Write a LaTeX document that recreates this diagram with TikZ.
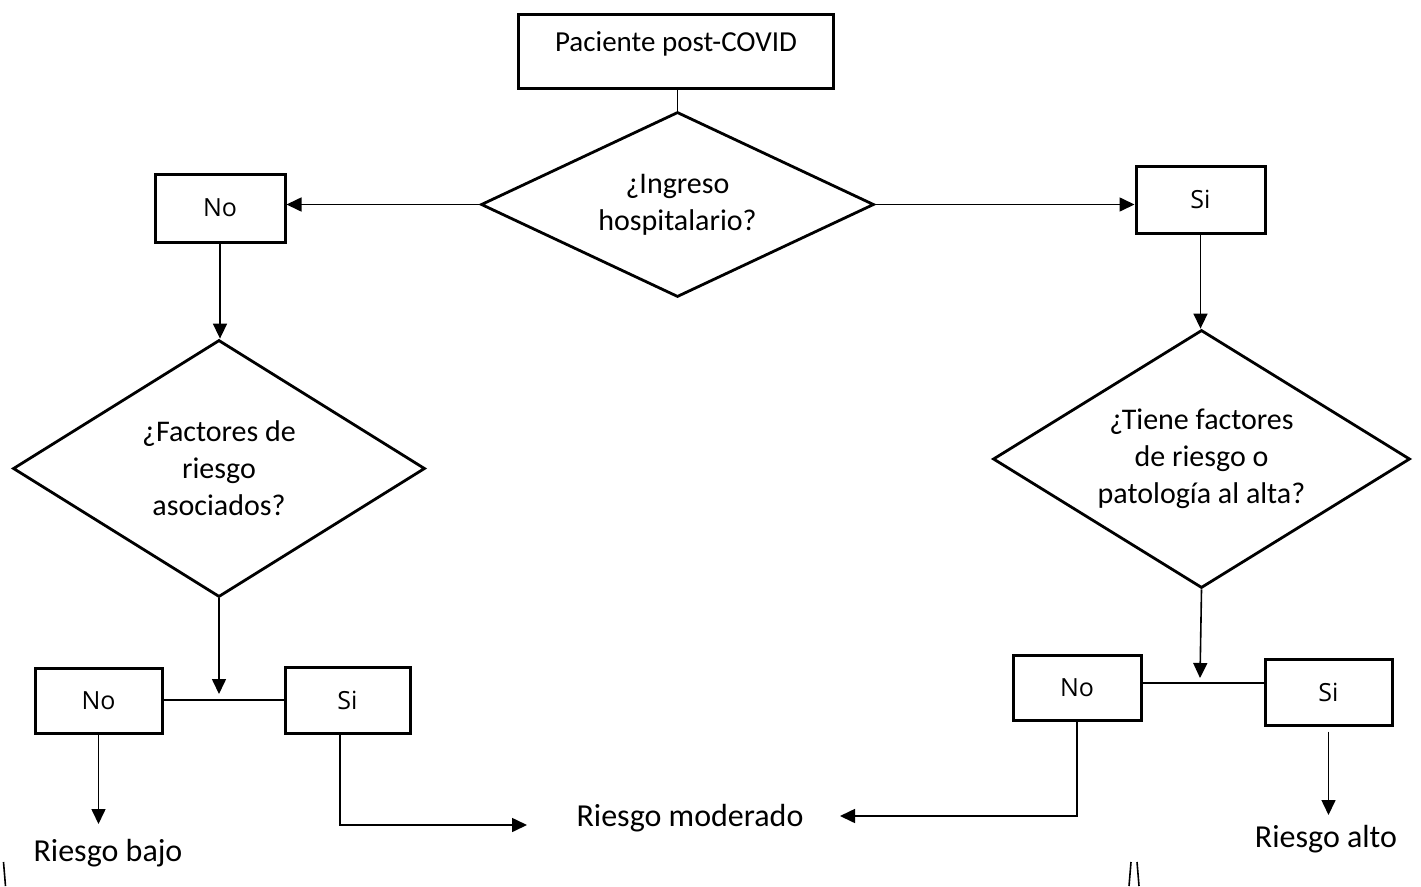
\documentclass[tikz,border=0pt]{standalone}
\usepackage{fontspec}
\setmainfont{Carlito}
\newfontfamily\boxfont{Open Sans}
\usetikzlibrary{shapes.geometric,arrows.meta}
\begin{document}
\begin{tikzpicture}[x=1pt,y=-1pt,
  box/.style={draw=black, line width=3pt, inner sep=0pt, font=\boxfont\fontsize{25}{30}\selectfont},
  dia/.style={draw=black, diamond, line width=2.8pt, inner sep=0pt, align=center, font=\fontsize{30}{37}\selectfont},
  conn/.style={line width=1.6pt, -{Triangle[length=15pt,width=14pt]}},
  link/.style={line width=1.6pt},
  result/.style={font=\fontsize{32}{38}\selectfont, inner sep=0pt, anchor=base}]
\useasboundingbox (0,0) rectangle (1421,886);

% boxes and decisions
\node[box, minimum width=315pt, minimum height=74pt] (top) at (675.5,51) {};
\node[inner sep=0pt, font=\fontsize{29}{35}\selectfont] (toptxt) at (676,44) {Paciente post-COVID};
\node[dia, shape aspect=2.12, minimum width=393pt, minimum height=185pt] (d1) at (677.5,204.5) {¿Ingreso\\hospitalario?};
\node[box, minimum width=130pt, minimum height=68pt] (no1) at (220,208) {No};
\node[box, minimum width=129pt, minimum height=67pt] (si1) at (1200.5,199.5) {Si};
\node[dia, shape aspect=1.6, minimum width=412pt, minimum height=257pt] (d2) at (219,468.5) {¿Factores de\\riesgo\\asociados?};
\node[dia, shape aspect=1.62, minimum width=417pt, minimum height=258pt] (d3) at (1201.5,459) {¿Tiene factores\\de riesgo o\\patología al alta?};
\node[box, minimum width=127pt, minimum height=65pt] (no2) at (98.5,700.5) {No};
\node[box, minimum width=125pt, minimum height=66pt] (si2) at (347.5,700) {Si};
\node[box, minimum width=128pt, minimum height=65pt] (no3) at (1077,687.5) {No};
\node[box, minimum width=127pt, minimum height=66pt] (si3) at (1328.5,692) {Si};

% results
\node[result] (rb) at (108,861) {Riesgo bajo};
\node[result] (rm) at (690,826) {Riesgo moderado};
\node[result] (ra) at (1326,847) {Riesgo alto};

% helper coordinates
\coordinate (j2) at (219,694);
\coordinate (j3) at (1200,683);
\coordinate (rbtip) at (97,824);
\coordinate (rmL) at (527,825);
\coordinate (rmR) at (840,816);
\coordinate (ratip) at (1328,815);

% connectors
\draw[link] (d1.north |- top.south) -- (d1.north);
\draw[conn] (d1.west) -- (d1.west -| no1.east);
\draw[conn] (d1.east) -- (d1.east -| si1.west);
\draw[conn] (no1.south) -- (no1.south |- d2.north);
\draw[conn] (si1.south) -- (si1.south |- d3.north);
\draw[conn] (d2.south) -- (j2);
\draw[link] (no2.east |- 0,700) -- (si2.west |- 0,700);
\draw[conn] (d3.south) -- ([yshift=5pt]j3);
\draw[link] (no3.east |- j3) -- (si3.west |- j3);
\draw[conn] (no2.south) -- (no2.south |- rbtip);
\draw[conn] ([xshift=-7.5pt]si2.south) |- (rmL);
\draw[conn] (no3.south) |- (rmR);
\draw[conn] ([yshift=-5pt]si3.south) -- (si3.south |- ratip);

% stray marks at the lower edge
\draw[link] (3.5,862) -- (5.5,886);
\draw[link] (1131,862) -- (1129,886);
\draw[link] (1137,862) -- (1139,886);
\end{tikzpicture}
\end{document}
